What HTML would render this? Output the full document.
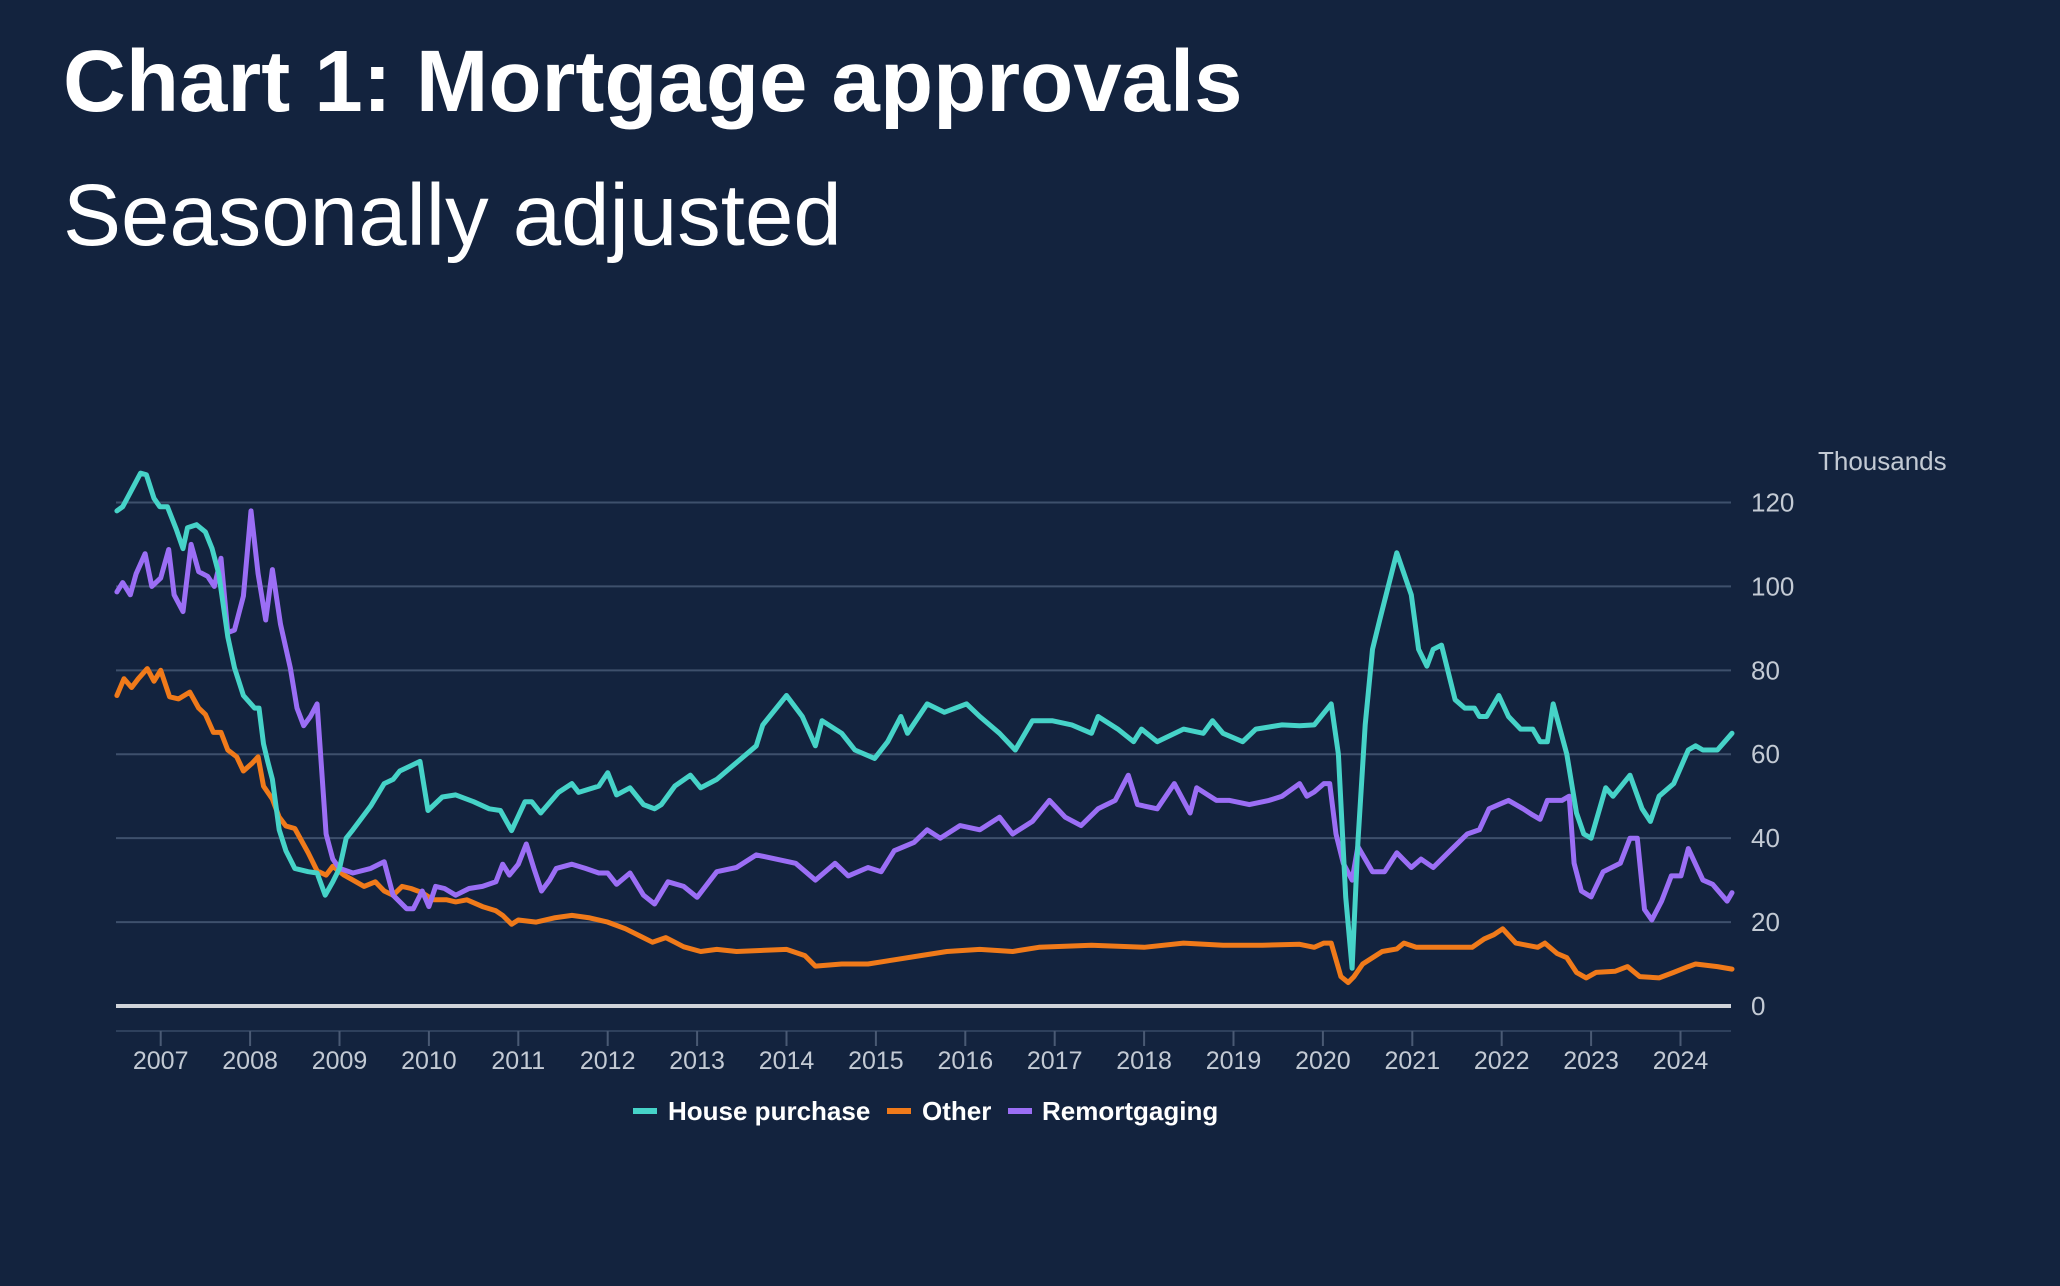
<!DOCTYPE html>
<html><head><meta charset="utf-8"><style>
html,body{margin:0;padding:0;background:#13233e;}
body{width:2060px;height:1286px;overflow:hidden;position:relative;font-family:"Liberation Sans",Arial,sans-serif;}
.t1{position:absolute;left:63px;top:32px;font-size:87px;font-weight:bold;color:#fff;white-space:nowrap;}
.t2{position:absolute;left:63px;top:166px;font-size:87px;color:#fff;white-space:nowrap;}
svg{position:absolute;left:0;top:0;}
</style></head><body>
<div class="t1">Chart 1: Mortgage approvals</div>
<div class="t2">Seasonally adjusted</div>
<svg id="s" width="2060" height="1286" xmlns="http://www.w3.org/2000/svg">
<g id="grid"></g>
<text x="1818" y="470" fill="#c3cad4" font-size="26" font-family="Liberation Sans, sans-serif">Thousands</text>
<g id="series"></g>
<g font-family="Liberation Sans, sans-serif" font-size="26" font-weight="bold" fill="#fff">
<rect x="633" y="1108" width="24" height="6" fill="#46d3c8"/>
<text x="668" y="1120">House purchase</text>
<rect x="887" y="1108" width="24" height="6" fill="#f07a1a"/>
<text x="922" y="1120">Other</text>
<rect x="1008" y="1108" width="24" height="6" fill="#9b6ef5"/>
<text x="1042" y="1120">Remortgaging</text>
</g>
</svg>
<script>
var NS="http://www.w3.org/2000/svg";
function X(yr){return 160.7+(yr-2007)*89.4;}
function Y(v){return 1006-v*4.196;}
var g=document.getElementById('grid');
function el(p,tag,at,txt){var e=document.createElementNS(NS,tag);for(var k in at)e.setAttribute(k,at[k]);if(txt!==undefined)e.textContent=txt;p.appendChild(e);return e;}
for(var v=20;v<=120;v+=20){el(g,'line',{x1:116,x2:1731,y1:Y(v),y2:Y(v),stroke:'#3e506c','stroke-width':2});}
for(var v=0;v<=120;v+=20){el(g,'text',{x:1751,y:Y(v)+9,fill:'#c3cad4','font-size':26,'font-family':'Liberation Sans, sans-serif'},String(v));}
el(g,'line',{x1:116,x2:1731,y1:1031,y2:1031,stroke:'#2e405c','stroke-width':2});
for(var yr=2007;yr<=2024;yr++){el(g,'line',{x1:X(yr),x2:X(yr),y1:1031,y2:1046,stroke:'#4a5a74','stroke-width':2});
el(g,'text',{x:X(yr),y:1069,fill:'#c3cad4','font-size':25,'text-anchor':'middle','font-family':'Liberation Sans, sans-serif'},String(yr));}
el(g,'line',{x1:116,x2:1731,y1:1006,y2:1006,stroke:'#d0d4da','stroke-width':4});
function z1(a){return a.map(function(p){return[2007+(p[0]-360)/200,p[1]];});}
function z2(a){return a.map(function(p){return[2020+(p[0]-48)/184,p[1]];});}
function d(a){return a.map(function(p){return[2007+(p[0]-122)/68,p[1]];});}
var teal=[].concat(z1([[262,118],[275,119],[300,124],[315,127],[328,126.6],[345,121],[358,119],[375,119],[395,113.6],[410,109],[420,114],[440,114.7],[460,113],[475,109],[490,103],[500,95.5],[510,88],[525,80.6],[545,74],[570,71],[580,71],[590,62.5],[600,58],[610,54],[625,42],[640,37],[660,32.8],[690,32],[710,31.7],[728,26.4],[745,29.6],[760,32.8],[775,40],[790,42],[830,47.7],[860,53],[880,54],[895,56],[940,58.3],[958,46.6],[990,49.8],[1020,50.3],[1060,48.7],[1095,47],[1120,46.6],[1145,41.8],[1175,48.7],[1190,48.7],[1210,46],[1250,50.9],[1280,53],[1295,50.9],[1340,52.4],[1360,55.6],[1380,50.3],[1410,52],[1440,48],[1465,47],[1480,48],[1510,52.4],[1545,55],[1568,52]]),
d([[545,54],[560,58],[575,62],[580,67],[598,74],[610,69],[620,62],[625,68],[640,65],[650,61],[665,59],[675,63],[685,69],[690,65],[705,72],[718,70],[735,72],[745,69],[760,65],[772,61],[785,68],[800,68],[815,67],[830,65],[835,69],[850,66],[862,63],[868,66],[880,63],[900,66],[915,65],[922,68],[930,65],[945,63],[955,66],[975,67]]),
z2([[0,66.8],[30,67],[65,72],[80,60],[95,26],[108,9],[120,39],[135,67],[150,85],[165,92],[200,108],[230,98],[245,85],[262,81],[275,85],[292,86],[320,73],[340,71],[360,71],[370,69],[385,69],[410,74],[430,69],[455,66],[480,66],[495,63],[510,63],[522,72],[550,60],[570,46],[585,41],[600,40],[630,52],[645,50],[680,55],[705,47],[722,44],[740,50],[770,53],[800,61],[815,62],[830,61],[860,61],[875,63],[890,65]]));
var orange=[].concat(z1([[262,74],[278,78],[295,75.9],[310,78],[330,80.4],[345,77.4],[360,80],[380,73.7],[400,73.2],[425,74.8],[445,71],[460,69.5],[478,65.2],[495,65.2],[510,61],[530,59.4],[545,56],[565,57.9],[578,59.4],[590,52.4],[610,49.3],[625,45],[640,42.9],[660,42.3],[690,36.5],[710,32.2],[730,31.2],[745,33.3],[770,31.2],[790,30],[815,28.5],[840,29.6],[860,27.4],[880,26.4],[900,28.5],[920,28],[945,27],[970,25.3],[1000,25.3],[1020,24.8],[1045,25.3],[1080,23.7],[1110,22.7],[1125,21.6],[1145,19.5],[1160,20.5],[1200,20],[1240,21],[1280,21.6],[1320,21],[1360,20],[1400,18.4],[1430,16.8],[1460,15.2],[1490,16.3],[1510,15.2],[1530,14.1],[1568,13]]),
d([[545,13.5],[560,13],[598,13.5],[612,12],[620,9.5],[640,10],[660,10],[680,11],[700,12],[720,13],[745,13.5],[770,13],[790,14],[830,14.5],[870,14],[900,15],[930,14.5],[960,14.5]]),
z2([[0,14.7],[30,14],[50,15],[65,15],[85,7],[100,5.6],[112,7],[130,10],[170,13],[200,13.6],[215,15],[240,14],[265,14],[290,14],[355,14],[380,16],[400,17],[418,18.4],[445,15],[490,14],[505,15],[530,12.5],[550,11.5],[570,8],[590,6.7],[610,8],[650,8.3],[675,9.4],[700,7],[740,6.7],[770,8],[800,9.4],[815,10],[860,9.4],[890,8.8]]));
var purple=[].concat(z1([[262,98.7],[275,100.9],[292,98],[305,103],[325,107.8],[340,100],[360,102],[378,108.8],[390,98],[410,94],[428,110],[445,103.5],[465,102.4],[480,100],[495,106.7],[510,89],[525,89.6],[545,97.7],[562,118],[578,103],[595,92],[610,104],[628,91],[650,80.6],[665,71],[680,66.8],[695,69],[710,72],[730,41],[745,35],[760,32.8],[790,31.7],[830,32.8],[860,34.4],[880,26.4],[910,23.2],[925,23.2],[945,27.4],[960,23.7],[975,28.5],[995,28],[1020,26.4],[1050,28],[1080,28.5],[1110,29.6],[1125,33.8],[1140,31.2],[1160,33.8],[1178,38.6],[1195,32.8],[1212,27.4],[1230,30],[1245,32.8],[1280,33.8],[1310,32.8],[1340,31.7],[1360,31.7],[1380,29],[1410,31.7],[1440,26.4],[1465,24.3],[1495,29.6],[1530,28.5],[1560,25.9]]),
d([[545,32],[560,33],[575,36],[590,35],[605,34],[620,30],[635,34],[645,31],[660,33],[670,32],[680,37],[695,39],[705,42],[715,40],[730,43],[745,42],[760,45],[770,41],[785,44],[798,49],[810,45],[822,43],[835,47],[848,49],[858,55],[865,48],[880,47],[893,53],[905,46],[910,52],[925,49],[935,49],[950,48],[965,49],[975,50]]),
z2([[0,53],[15,50],[30,51],[50,53],[62,53],[75,41],[90,34],[108,30],[120,38],[135,35],[150,32],[175,32],[200,36.5],[230,33],[250,35],[275,33],[310,37],[345,41],[370,42],[390,47],[410,48],[430,49],[460,47],[480,45.5],[495,44.5],[510,49],[540,49],[555,50],[565,34],[580,27.4],[600,26],[625,32],[660,34],[680,40],[695,40],[710,23],[725,20.5],[745,25],[765,31],[785,31],[800,37.5],[830,30],[850,29],[880,25],[890,27]]));
var sg=document.getElementById('series');
function draw(a,c){a.sort(function(p,q){return p[0]-q[0];});var s='';a.forEach(function(p,i){s+=(i?'L':'M')+X(p[0]).toFixed(1)+' '+Y(p[1]).toFixed(1);});
el(sg,'path',{d:s,fill:'none',stroke:c,'stroke-width':5,'stroke-linejoin':'round','stroke-linecap':'round'});}
draw(orange,'#f07a1a');draw(purple,'#9b6ef5');draw(teal,'#46d3c8');
</script>
</body></html>
